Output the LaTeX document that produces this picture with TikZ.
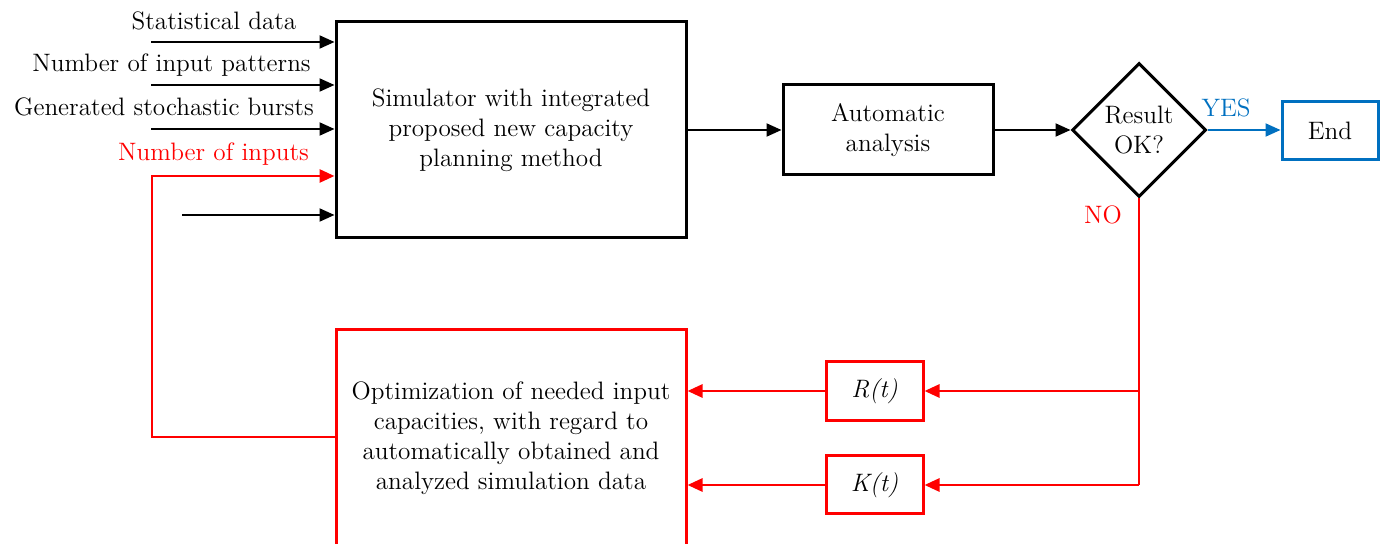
\documentclass[tikz,border=0pt]{standalone}
\usepackage{fontspec}
\usetikzlibrary{shapes.geometric,arrows.meta}
\definecolor{myred}{RGB}{255,0,0}
\definecolor{myblue}{RGB}{0,112,192}
\begin{document}
\begin{tikzpicture}[x=0.5pt,y=-0.5pt,
  every node/.style={font=\fontsize{12.6}{15}\selectfont},
  box/.style={draw,line width=1.5pt,align=center,inner sep=0pt},
  arr/.style={line width=1pt,-{Triangle[length=7.5pt,width=6.5pt]}},
  redarr/.style={arr,draw=myred,color=myred,line width=1.4pt},
  lbl/.style={inner sep=0pt,anchor=base}]
\useasboundingbox (0,0) rectangle (1386,544);
\clip (0,0) rectangle (1386,544);
% main nodes
\node[box,minimum width=175pt,minimum height=108pt] (sim) at (511,130)
  {Simulator with integrated\\proposed new capacity\\planning method};
\node[box,minimum width=105pt,minimum height=45pt] (auto) at (888,130)
  {Automatic\\analysis};
\node[box,diamond,aspect=1,minimum width=67pt,minimum height=67pt] (dec) at (1139,130)
  {Result\\OK?};
\node[box,draw=myblue,minimum width=48pt,minimum height=29pt] (end) at (1330,131) {End};
\node[box,draw=myred,minimum width=175pt,minimum height=108pt] (opt) at (511,438)
  {Optimization of needed input\\capacities, with regard to\\automatically obtained and\\analyzed simulation data};
\node[box,draw=myred,minimum width=48.5pt,minimum height=29.5pt] (R) at (874.5,391) {\textit{R(t)}};
\node[box,draw=myred,minimum width=48.5pt,minimum height=29pt] (K) at (874.5,485) {\textit{K(t)}};
% input labels
\node[lbl] (l1) at (214,30) {Statistical data};
\node[lbl] (l2) at (171.5,72) {Number of input patterns};
\node[lbl] (l3) at (164,116) {Generated stochastic bursts};
\node[lbl,text=myred] (l4) at (213.5,161) {Number of inputs};
\node[lbl,text=myblue] (yes) at (1226,117) {YES};
\node[lbl,text=myred] (no) at (1103,224) {NO};
% input arrows
\coordinate (i1) at (151,42);
\coordinate (i2) at (151,85);
\coordinate (i3) at (151,129);
\coordinate (i5) at (182,215);
\draw[arr] (i1) -- (i1 -| sim.west);
\draw[arr] (i2) -- (i2 -| sim.west);
\draw[arr] (i3) -- (i3 -| sim.west);
\draw[arr] (i5) -- (i5 -| sim.west);
% main flow
\draw[arr] (sim.east |- auto.west) -- (auto.west);
\draw[arr] (auto.east) -- (dec.west);
\draw[arr,draw=myblue,color=myblue] (dec.east) -- (end.west |- dec.east);
% red feedback
\coordinate (jr) at (1139,391);
\coordinate (jk) at (1139,485);
\draw[myred,line width=1.4pt] (dec.south) -- (jk);
\draw[redarr] (jr) -- (R.east);
\draw[redarr] (jk) -- (K.east);
\draw[redarr] (R.west) -- (opt.east |- R.west);
\draw[redarr] (K.west) -- (opt.east |- K.west);
\coordinate (lc) at (152,437);
\coordinate (tc) at (152,176);
\draw[redarr] (opt.west |- lc) -- (lc) -- (tc) -- (tc -| sim.west);
\end{tikzpicture}
\end{document}
